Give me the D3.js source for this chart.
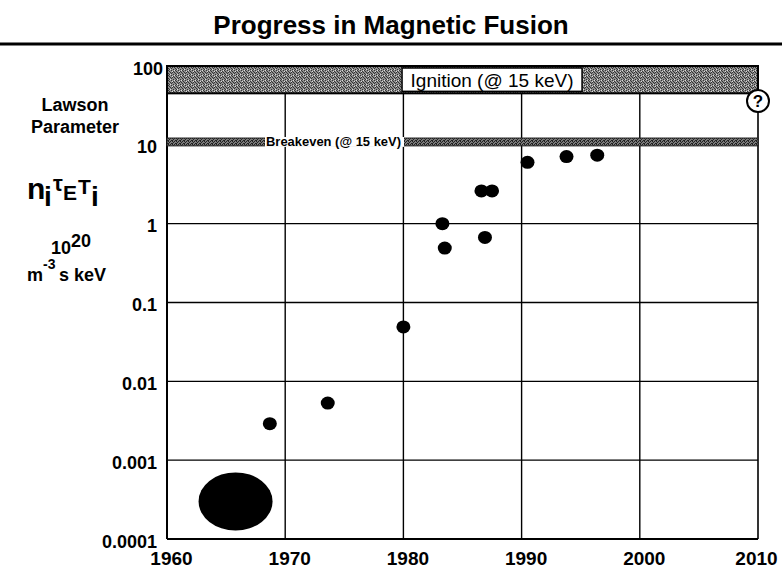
<!DOCTYPE html>
<html>
<head>
<meta charset="utf-8">
<script src="https://cdn.jsdelivr.net/npm/d3@7"></script>
<style>
  body { margin: 0; background: #fff; }
  text { font-family: "Liberation Sans", Arial, Helvetica, sans-serif; }
</style>
</head>
<body>
<div id="chart"></div>
<script>
// decade ticks on both axes
const yearTicks = [1960, 1970, 1980, 1990, 2000, 2010];
const valueTicks = [0.0001, 0.001, 0.01, 0.1, 1, 10, 100];
const valueTickLabels = ["0.0001", "0.001", "0.01", "0.1", "1", "10", "100"];

// experimental results (year, Lawson parameter)
const years = [1968.7, 1973.6, 1980.0, 1983.3, 1983.5, 1986.6, 1987.5, 1986.9, 1990.5, 1993.8, 1996.4];
const values = [0.0029, 0.0053, 0.049, 1.0, 0.49, 2.6, 2.6, 0.67, 6.0, 7.1, 7.4];

// early devices blob
const earlyYear = [1965.8];
const earlyValue = [0.0003];

// bands
const ignitionBand = [45, 100];
const breakevenBand = [9.7, 12.2];
const questionYear = [2010];
const questionValue = [36];

const width = 782, height = 569;
const svg = d3.select("#chart").append("svg")
    .attr("width", width)
    .attr("height", height);

const x = d3.scaleLinear().domain([1960, 2010]).range([167, 758]);
const y = d3.scaleLog().domain([0.0001, 100]).range([539, 66]);

// stipple patterns for the bands
const defs = svg.append("defs");
const ign = defs.append("pattern").attr("id", "ign")
    .attr("width", 7).attr("height", 5).attr("patternUnits", "userSpaceOnUse");
ign.append("rect").attr("width", 7).attr("height", 5).attr("fill", "#8e8e8e");
[[0, 0], [3, 0], [1, 1], [5, 1], [2, 2], [4, 2], [6, 2], [0, 3], [3, 3], [1, 4], [5, 4]].forEach(p => {
  ign.append("rect").attr("x", p[0]).attr("y", p[1]).attr("width", 1).attr("height", 1).attr("fill", "#333");
});
[[6, 0], [2, 4], [4, 1]].forEach(p => {
  ign.append("rect").attr("x", p[0]).attr("y", p[1]).attr("width", 1).attr("height", 1).attr("fill", "#ddd");
});
const brk = defs.append("pattern").attr("id", "brk")
    .attr("width", 4).attr("height", 3).attr("patternUnits", "userSpaceOnUse");
brk.append("rect").attr("width", 4).attr("height", 3).attr("fill", "#7a7a7a");
[[0, 0], [2, 0], [1, 1], [3, 2], [0, 2]].forEach(p => {
  brk.append("rect").attr("x", p[0]).attr("y", p[1]).attr("width", 1).attr("height", 1).attr("fill", "#222");
});

// title + rule
svg.append("text")
    .attr("x", 391).attr("y", 34)
    .attr("text-anchor", "middle")
    .attr("font-size", 26).attr("font-weight", "bold")
    .text("Progress in Magnetic Fusion");
svg.append("line")
    .attr("x1", 0).attr("x2", width).attr("y1", 44).attr("y2", 44)
    .attr("stroke", "#000").attr("stroke-width", 3);

// grid
const grid = svg.append("g").attr("stroke", "#000");
grid.selectAll(".vgrid")
    .data(yearTicks.slice(1, -1))
    .enter().append("line")
    .attr("x1", d => x(d)).attr("x2", d => x(d))
    .attr("y1", y(ignitionBand[0])).attr("y2", y(0.0001))
    .attr("stroke-width", 1.4);
grid.selectAll(".hgrid")
    .data(valueTicks.slice(1, -1))
    .enter().append("line")
    .attr("x1", x(1960)).attr("x2", x(2010))
    .attr("y1", d => y(d)).attr("y2", d => y(d))
    .attr("stroke-width", 1.4);

// frame: left, bottom, right
svg.append("line")
    .attr("x1", x(1960)).attr("x2", x(1960))
    .attr("y1", y(100)).attr("y2", y(0.0001))
    .attr("stroke", "#000").attr("stroke-width", 2);
svg.append("line")
    .attr("x1", x(1960)).attr("x2", x(2010))
    .attr("y1", y(0.0001)).attr("y2", y(0.0001))
    .attr("stroke", "#000").attr("stroke-width", 2);
svg.append("line")
    .attr("x1", x(2010)).attr("x2", x(2010))
    .attr("y1", y(ignitionBand[0])).attr("y2", y(0.0001))
    .attr("stroke", "#000").attr("stroke-width", 1.6);

// ignition band
svg.append("rect")
    .attr("x", x(1960)).attr("width", x(2010) - x(1960))
    .attr("y", y(ignitionBand[1])).attr("height", y(ignitionBand[0]) - y(ignitionBand[1]))
    .attr("fill", "url(#ign)")
    .attr("stroke", "#000").attr("stroke-width", 2);
const ignX = x(1987.5), ignY = (y(ignitionBand[0]) + y(ignitionBand[1])) / 2;
svg.append("rect")
    .attr("x", ignX - 90).attr("y", y(ignitionBand[1]) + 2)
    .attr("width", 180).attr("height", y(ignitionBand[0]) - y(ignitionBand[1]) - 4)
    .attr("fill", "#fff").attr("stroke", "#000").attr("stroke-width", 1.5);
svg.append("text")
    .attr("x", ignX).attr("y", ignY + 7)
    .attr("text-anchor", "middle")
    .attr("font-size", 19)
    .text("Ignition (@ 15 keV)");

// breakeven band
svg.append("rect")
    .attr("x", x(1960)).attr("width", x(2010) - x(1960))
    .attr("y", y(breakevenBand[1])).attr("height", y(breakevenBand[0]) - y(breakevenBand[1]))
    .attr("fill", "url(#brk)")
    .attr("stroke", "#222").attr("stroke-width", 1);
const brkY = (y(breakevenBand[0]) + y(breakevenBand[1])) / 2;
svg.append("rect")
    .attr("x", 265).attr("y", y(breakevenBand[1]) - 1)
    .attr("width", 139).attr("height", y(breakevenBand[0]) - y(breakevenBand[1]) + 2)
    .attr("fill", "#fff");
svg.append("text")
    .attr("x", 266).attr("y", brkY + 4.5)
    .attr("font-size", 12.5).attr("font-weight", "bold")
    .attr("textLength", 135).attr("lengthAdjust", "spacingAndGlyphs")
    .text("Breakeven (@ 15 keV)");

// question mark
const q = svg.append("g")
    .attr("transform", `translate(${x(questionYear[0])},${y(questionValue[0])})`);
q.append("circle").attr("r", 11)
    .attr("fill", "#fff").attr("stroke", "#000").attr("stroke-width", 2);
q.append("text").attr("y", 6).attr("text-anchor", "middle")
    .attr("font-size", 17).attr("font-weight", "bold").text("?");

// early devices blob
svg.selectAll(".early")
    .data(earlyYear)
    .enter().append("ellipse")
    .attr("cx", d => x(d)).attr("cy", (d, i) => y(earlyValue[i]))
    .attr("rx", 37).attr("ry", 29)
    .attr("fill", "#000");

// data points
svg.selectAll(".pt")
    .data(years)
    .enter().append("ellipse")
    .attr("class", "pt")
    .attr("cx", d => x(d)).attr("cy", (d, i) => y(values[i]))
    .attr("rx", 7).attr("ry", 6.5)
    .attr("fill", "#000");

// axes tick labels
const xAxis = d3.axisBottom(x).tickValues(yearTicks).tickSize(0).tickPadding(0)
    .tickFormat(d3.format("d"));
const gx = svg.append("g").attr("transform", `translate(0,${y(0.0001) + 12})`).call(xAxis);
gx.select(".domain").remove();
gx.selectAll("text")
    .attr("dy", "0.71em")
    .attr("dx", d => d === 2010 ? -2 : 4)
    .attr("font-size", 19).attr("font-weight", "bold")
    .attr("font-family", "Liberation Sans, Arial, sans-serif")
    .attr("fill", "#000");

const yAxis = d3.axisLeft(y).tickValues(valueTicks).tickSize(0).tickPadding(0)
    .tickFormat((d, i) => valueTickLabels[i]);
const gy = svg.append("g").attr("transform", `translate(${x(1960) - 10},0)`).call(yAxis);
gy.select(".domain").remove();
gy.selectAll("text")
    .attr("dy", "0.45em")
    .attr("dx", d => d === 100 ? 6 : 0)
    .attr("font-size", 18).attr("font-weight", "bold")
    .attr("font-family", "Liberation Sans, Arial, sans-serif")
    .attr("fill", "#000");

// left-hand axis title block
const lab = svg.append("g").attr("font-weight", "bold").attr("fill", "#000");
lab.append("text").attr("x", 75).attr("y", 111).attr("text-anchor", "middle")
    .attr("font-size", 18).text("Lawson");
lab.append("text").attr("x", 75).attr("y", 133).attr("text-anchor", "middle")
    .attr("font-size", 18).text("Parameter");

const f = lab.append("text").attr("y", 199);
f.append("tspan").attr("x", 27).attr("font-size", 30).text("n");
f.append("tspan").attr("x", 44).attr("dy", 7).attr("font-size", 28).text("i");
f.append("tspan").attr("x", 53).attr("dy", -15).attr("font-size", 22).text("τ");
f.append("tspan").attr("x", 63).attr("dy", 9).attr("font-size", 21).text("E");
f.append("tspan").attr("x", 78).attr("dy", -6).attr("font-size", 21).text("T");
f.append("tspan").attr("x", 91).attr("dy", 12).attr("font-size", 28).text("i");

const u1 = lab.append("text").attr("y", 254).attr("font-size", 18);
u1.append("tspan").attr("x", 51).text("10");
u1.append("tspan").attr("x", 71).attr("dy", -7).text("20");

const u2 = lab.append("text").attr("y", 281).attr("font-size", 18);
u2.append("tspan").attr("x", 27).text("m");
u2.append("tspan").attr("x", 43).attr("dy", -12).attr("font-size", 14).text("-3");
u2.append("tspan").attr("x", 59).attr("dy", 12).text("s keV");
</script>
</body>
</html>
